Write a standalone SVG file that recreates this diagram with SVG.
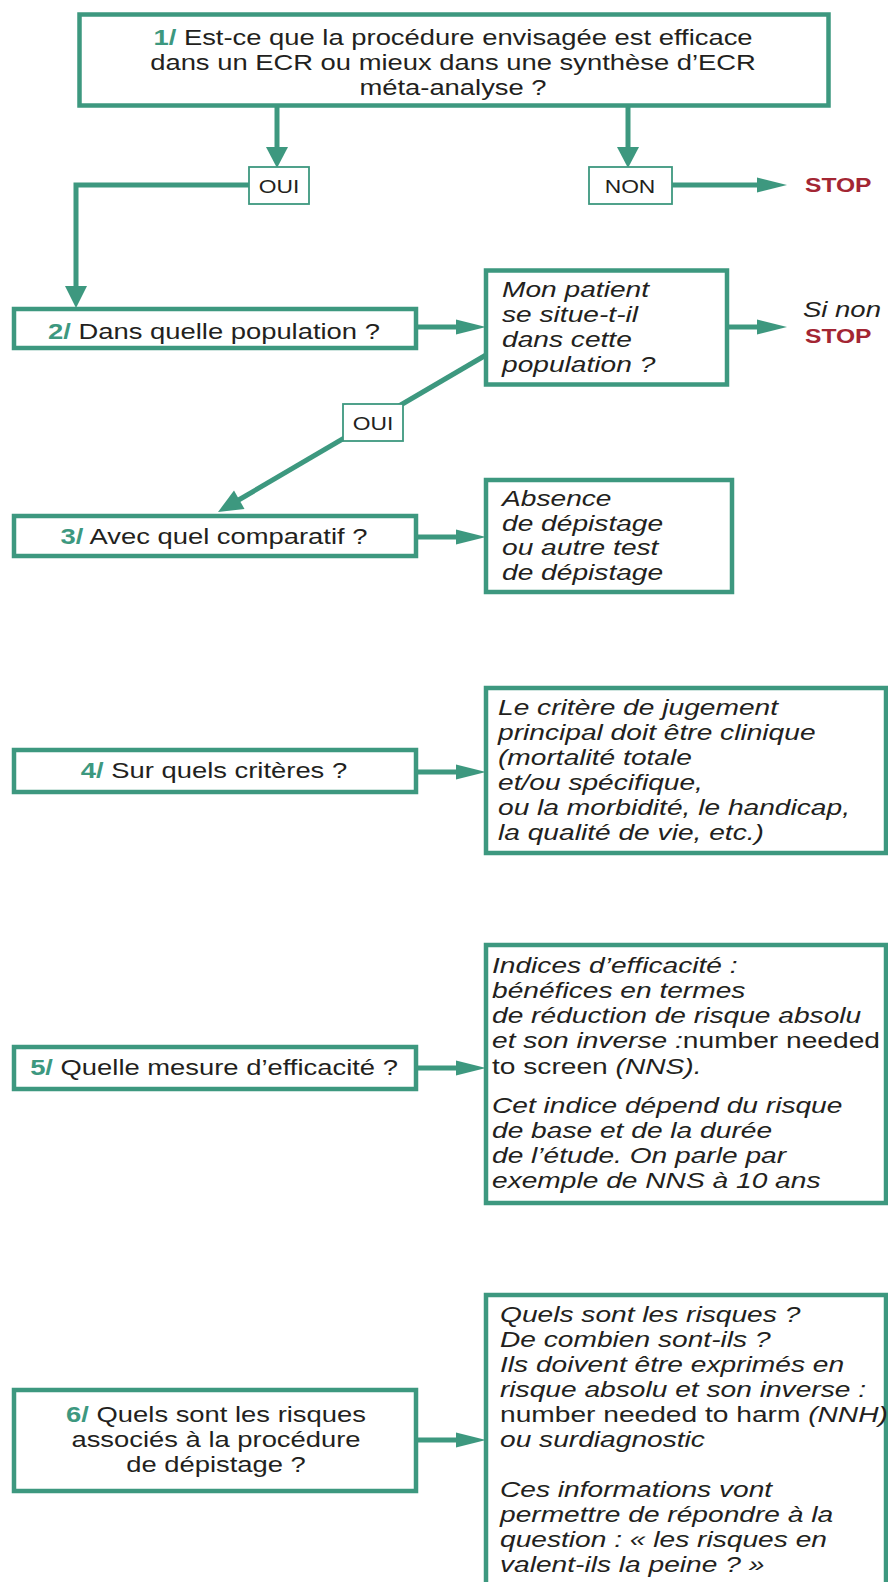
<svg xmlns="http://www.w3.org/2000/svg" width="888" height="1582" viewBox="0 0 888 1582">
<style>
.box{fill:#fff;stroke:#3d987f;stroke-width:4.5}
.lbl{fill:#fff;stroke:#3d987f;stroke-width:1.8}
.ln{stroke:#3d987f;stroke-width:5;fill:none}
.hd{fill:#3d987f;stroke:none}
.t{font-family:"Liberation Sans",Arial,sans-serif;font-size:22px;fill:#231f20}
.i{font-style:italic}
.r{font-style:normal}
.n{font-weight:bold;fill:#3d987f}
.stop{font-weight:bold;fill:#a32633}
</style>
<rect width="888" height="1582" fill="#fff"/>
<g id="connectors">
  <line class="ln" x1="277" y1="107" x2="277" y2="149"/>
  <polygon class="hd" points="266,147 288,147 277,168"/>
  <line class="ln" x1="628" y1="107" x2="628" y2="149"/>
  <polygon class="hd" points="617,147 639,147 628,168"/>
  <polyline class="ln" points="249,185 76,185 76,288"/>
  <polygon class="hd" points="65,286 87,286 76,308"/>
  <line class="ln" x1="672" y1="185" x2="759" y2="185"/>
  <polygon class="hd" points="757,177.5 757,192.5 787,185"/>
  <line class="ln" x1="418" y1="327" x2="458" y2="327"/>
  <polygon class="hd" points="456,319.5 456,334.5 486,327"/>
  <line class="ln" x1="729" y1="327" x2="759" y2="327"/>
  <polygon class="hd" points="757,319.5 757,334.5 787,327"/>
  <line class="ln" x1="486" y1="355" x2="236" y2="501.5"/>
  <polygon class="hd" points="218,512 244.5,509 234,490.5"/>
  <line class="ln" x1="418" y1="537" x2="458" y2="537"/>
  <polygon class="hd" points="456,529.5 456,544.5 486,537"/>
  <line class="ln" x1="418" y1="772" x2="458" y2="772"/>
  <polygon class="hd" points="456,764.5 456,779.5 486,772"/>
  <line class="ln" x1="418" y1="1068" x2="458" y2="1068"/>
  <polygon class="hd" points="456,1060.5 456,1075.5 486,1068"/>
  <line class="ln" x1="418" y1="1440" x2="458" y2="1440"/>
  <polygon class="hd" points="456,1432.5 456,1447.5 486,1440"/>
</g>
<g id="n1">
  <rect class="box" x="79.5" y="14.5" width="749" height="91"/>
  <text class="t" text-anchor="middle" transform="translate(453,0) scale(1.245,1)"><tspan x="0" y="45"><tspan class="n">1/</tspan> Est-ce que la procédure envisagée est efficace</tspan><tspan x="0" y="70">dans un ECR ou mieux dans une synthèse d’ECR</tspan><tspan x="0" y="95">méta-analyse ?</tspan></text>
</g>
<g id="oui1">
  <rect class="lbl" x="249" y="167" width="60" height="37"/>
  <text class="t" text-anchor="middle" transform="translate(279,0) scale(1.2,1)" style="font-size:19px"><tspan x="0" y="193">OUI</tspan></text>
</g>
<g id="non1">
  <rect class="lbl" x="589" y="167" width="83" height="37"/>
  <text class="t" text-anchor="middle" transform="translate(630,0) scale(1.2,1)" style="font-size:19px"><tspan x="0" y="193">NON</tspan></text>
</g>
<g id="stop1">
  <text class="t stop" transform="translate(805,0) scale(1.2,1)" style="font-size:20.5px"><tspan x="0" y="192">STOP</tspan></text>
</g>
<g id="n2">
  <rect class="box" x="14" y="309" width="402" height="39"/>
  <text class="t" text-anchor="middle" transform="translate(214,0) scale(1.245,1)"><tspan x="0" y="339"><tspan class="n">2/</tspan> Dans quelle population ?</tspan></text>
</g>
<g id="n2b">
  <rect class="box" x="486" y="270.5" width="241" height="114"/>
  <text class="t i" transform="translate(502,0) scale(1.28,1)"><tspan x="0" y="297">Mon patient</tspan><tspan x="0" y="322">se situe-t-il</tspan><tspan x="0" y="347">dans cette</tspan><tspan x="0" y="372">population ?</tspan></text>
</g>
<g id="stop2">
  <text class="t i" transform="translate(803,0) scale(1.25,1)"><tspan x="0" y="317">Si non</tspan></text>
  <text class="t stop" transform="translate(805,0) scale(1.2,1)" style="font-size:20.5px"><tspan x="0" y="343">STOP</tspan></text>
</g>
<g id="oui2">
  <rect class="lbl" x="343" y="404" width="60" height="37"/>
  <text class="t" text-anchor="middle" transform="translate(373,0) scale(1.2,1)" style="font-size:19px"><tspan x="0" y="430">OUI</tspan></text>
</g>
<g id="n3">
  <rect class="box" x="14" y="516" width="402" height="40"/>
  <text class="t" text-anchor="middle" transform="translate(214,0) scale(1.245,1)"><tspan x="0" y="544"><tspan class="n">3/</tspan> Avec quel comparatif ?</tspan></text>
</g>
<g id="n3b">
  <rect class="box" x="486" y="480" width="246" height="112"/>
  <text class="t i" transform="translate(502,0) scale(1.28,1)"><tspan x="0" y="506">Absence</tspan><tspan x="0" y="531">de dépistage</tspan><tspan x="0" y="555">ou autre test</tspan><tspan x="0" y="580">de dépistage</tspan></text>
</g>
<g id="n4">
  <rect class="box" x="14" y="750" width="402" height="42"/>
  <text class="t" text-anchor="middle" transform="translate(214,0) scale(1.245,1)"><tspan x="0" y="778"><tspan class="n">4/</tspan> Sur quels critères ?</tspan></text>
</g>
<g id="n4b">
  <rect class="box" x="486" y="688" width="400" height="165"/>
  <text class="t i" transform="translate(498,0) scale(1.28,1)"><tspan x="0" y="715">Le critère de jugement</tspan><tspan x="0" y="740">principal doit être clinique</tspan><tspan x="0" y="765">(mortalité totale</tspan><tspan x="0" y="790">et/ou spécifique,</tspan><tspan x="0" y="815">ou la morbidité, le handicap,</tspan><tspan x="0" y="840">la qualité de vie, etc.)</tspan></text>
</g>
<g id="n5">
  <rect class="box" x="14" y="1047" width="402" height="42"/>
  <text class="t" text-anchor="middle" transform="translate(214,0) scale(1.245,1)"><tspan x="0" y="1075"><tspan class="n">5/</tspan> Quelle mesure d’efficacité ?</tspan></text>
</g>
<g id="n5b">
  <rect class="box" x="486" y="945" width="400" height="258"/>
  <text class="t i" transform="translate(492,0) scale(1.28,1)"><tspan x="0" y="973">Indices d’efficacité :</tspan><tspan x="0" y="998">bénéfices en termes</tspan><tspan x="0" y="1023">de réduction de risque absolu</tspan><tspan x="0" y="1048">et son inverse :<tspan class="r">number needed</tspan></tspan><tspan x="0" y="1074"><tspan class="r">to screen </tspan>(NNS).</tspan><tspan x="0" y="1113">Cet indice dépend du risque</tspan><tspan x="0" y="1138">de base et de la durée</tspan><tspan x="0" y="1163">de l’étude. On parle par</tspan><tspan x="0" y="1188">exemple de NNS à 10 ans</tspan></text>
</g>
<g id="n6">
  <rect class="box" x="14" y="1390" width="402" height="101"/>
  <text class="t" text-anchor="middle" transform="translate(216,0) scale(1.245,1)"><tspan x="0" y="1422"><tspan class="n">6/</tspan> Quels sont les risques</tspan><tspan x="0" y="1447">associés à la procédure</tspan><tspan x="0" y="1472">de dépistage ?</tspan></text>
</g>
<g id="n6b">
  <rect class="box" x="486" y="1295" width="400" height="320"/>
  <text class="t i" transform="translate(500,0) scale(1.28,1)"><tspan x="0" y="1322">Quels sont les risques ?</tspan><tspan x="0" y="1347">De combien sont-ils ?</tspan><tspan x="0" y="1372">Ils doivent être exprimés en</tspan><tspan x="0" y="1397">risque absolu et son inverse :</tspan><tspan x="0" y="1422"><tspan class="r">number needed to harm </tspan>(NNH)</tspan><tspan x="0" y="1447">ou surdiagnostic</tspan><tspan x="0" y="1497">Ces informations vont</tspan><tspan x="0" y="1522">permettre de répondre à la</tspan><tspan x="0" y="1547">question : « les risques en</tspan><tspan x="0" y="1572">valent-ils la peine ? »</tspan></text>
</g>
</svg>
